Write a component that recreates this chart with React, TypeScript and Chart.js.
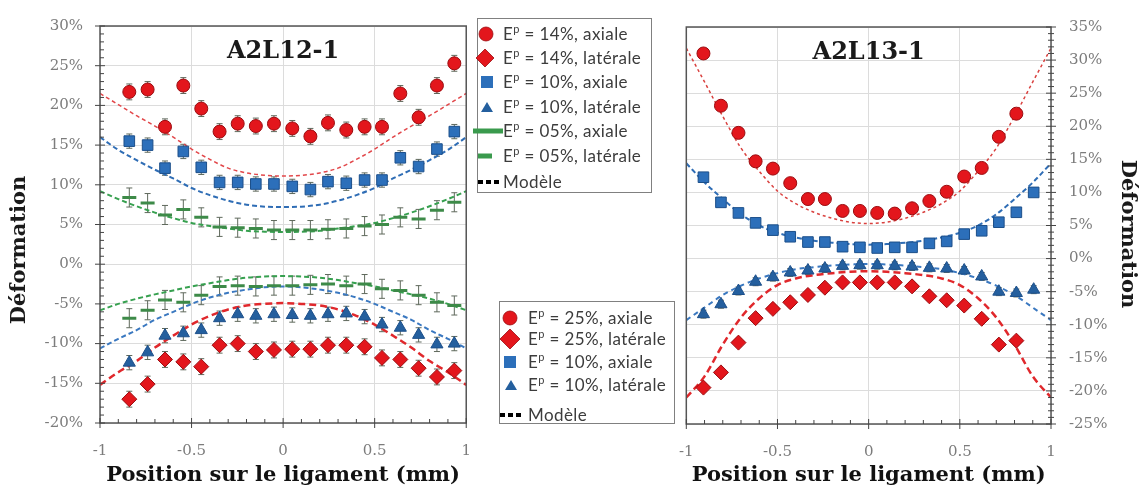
import React, { useEffect, useRef } from 'react';
import { Chart, registerables } from 'chart.js';
Chart.register(...registerables);

const SERIF = "'DejaVu Serif', 'Liberation Serif', serif";
const SANS = "Lato, 'Open Sans', 'Noto Sans', sans-serif";
Chart.defaults.font.family = SERIF;

const RED = '#e3161c';
const RED_EDGE = '#9a0c10';
const BLUE = '#2c6fba';
const BLUE_EDGE = '#1c4f8a';
const TRI = '#245f9e';
const GREEN = '#3a9a4d';
const GREEN_MARK = '#3d8a48';

// ---------- Left panel : A2L12-1 ----------
const xLeft = [-0.84, -0.74, -0.645, -0.545, -0.447, -0.347, -0.248, -0.149, -0.05, 0.05, 0.149, 0.245, 0.345, 0.445, 0.54, 0.64, 0.74, 0.84, 0.935];
const l14Axial = [21.7, 22.0, 17.3, 22.5, 19.6, 16.7, 17.7, 17.4, 17.7, 17.1, 16.1, 17.8, 16.9, 17.3, 17.3, 21.5, 18.5, 22.5, 25.3];
const l14Lateral = [-17.0, -15.1, -12.0, -12.3, -12.9, -10.2, -10.0, -11.0, -10.8, -10.7, -10.7, -10.2, -10.2, -10.4, -11.8, -12.0, -13.1, -14.2, -13.4];
const l10Axial = [15.5, 15.0, 12.1, 14.2, 12.2, 10.3, 10.3, 10.1, 10.1, 9.8, 9.4, 10.4, 10.2, 10.6, 10.6, 13.4, 12.3, 14.5, 16.7];
const l10Lateral = [-12.4, -11.1, -9.0, -8.7, -8.3, -6.8, -6.3, -6.5, -6.3, -6.4, -6.5, -6.3, -6.2, -6.6, -7.6, -8.0, -8.9, -10.1, -10.0];
const l05Axial = [8.4, 7.7, 6.2, 6.9, 5.9, 4.7, 4.6, 4.5, 4.3, 4.3, 4.3, 4.4, 4.5, 4.8, 5.0, 5.9, 5.7, 6.8, 7.8];
const l05Lateral = [-6.8, -5.8, -4.5, -4.8, -3.9, -2.8, -2.7, -2.8, -2.7, -2.7, -2.6, -2.5, -2.7, -2.5, -3.1, -3.3, -3.9, -4.8, -5.2];

const modelX = [-1, -0.9, -0.8, -0.7, -0.6, -0.5, -0.4, -0.3, -0.2, -0.1, 0, 0.1, 0.2, 0.3, 0.4, 0.5, 0.6, 0.7, 0.8, 0.9, 1];
const mL14Axial = [21.5, 20.1, 18.7, 17.4, 16.0, 14.5, 13.2, 12.1, 11.5, 11.2, 11.1, 11.2, 11.5, 12.1, 13.2, 14.5, 16.0, 17.4, 18.7, 20.1, 21.5];
const mL14Lateral = [-15.2, -13.6, -12.2, -10.5, -9.0, -7.6, -6.5, -5.7, -5.2, -5.0, -4.9, -5.0, -5.2, -5.7, -6.5, -7.6, -9.0, -10.5, -12.2, -13.6, -15.2];
const mL10Axial = [16.0, 14.4, 13.1, 11.9, 10.8, 9.6, 8.7, 8.0, 7.5, 7.25, 7.2, 7.25, 7.5, 8.0, 8.7, 9.6, 10.8, 11.9, 13.1, 14.4, 16.0];
const mL10Lateral = [-10.6, -9.4, -8.3, -7.0, -6.0, -5.0, -4.2, -3.6, -3.2, -2.9, -2.8, -2.9, -3.2, -3.6, -4.2, -5.0, -6.0, -7.0, -8.3, -9.4, -10.6];
const mL05Axial = [9.2, 8.2, 7.3, 6.5, 5.8, 5.2, 4.8, 4.5, 4.2, 4.1, 4.05, 4.1, 4.2, 4.5, 4.8, 5.2, 5.8, 6.5, 7.3, 8.2, 9.2];
const mL05Lateral = [-5.8, -5.0, -4.35, -3.8, -3.3, -2.8, -2.4, -2.0, -1.7, -1.55, -1.5, -1.55, -1.7, -2.0, -2.4, -2.8, -3.3, -3.8, -4.35, -5.0, -5.8];

// ---------- Right panel : A2L13-1 ----------
const xRight = [-0.906, -0.81, -0.714, -0.62, -0.525, -0.43, -0.333, -0.24, -0.143, -0.048, 0.047, 0.143, 0.238, 0.333, 0.428, 0.524, 0.62, 0.714, 0.81, 0.905];
const r25Axial = [31.0, 23.1, 19.0, 14.7, 13.6, 11.4, 9.0, 9.0, 7.2, 7.2, 6.9, 6.8, 7.6, 8.7, 10.1, 12.4, 13.7, 18.4, 21.9];
const r25Lateral = [-19.5, -17.2, -12.7, -9.0, -7.6, -6.6, -5.5, -4.4, -3.6, -3.6, -3.6, -3.6, -4.2, -5.7, -6.3, -7.1, -9.1, -13.0, -12.4];
const r10Axial = [12.3, 8.5, 6.9, 5.4, 4.3, 3.3, 2.5, 2.5, 1.8, 1.7, 1.6, 1.7, 1.7, 2.3, 2.6, 3.7, 4.2, 5.5, 7.0, 10.0];
const r10Lateral = [-8.4, -6.9, -4.9, -3.5, -2.8, -2.1, -1.8, -1.5, -1.1, -1.0, -1.0, -1.1, -1.2, -1.4, -1.5, -1.8, -2.7, -5.0, -5.2, -4.7];

const mR25Axial = [31.8, 26.7, 21.5, 16.7, 13.2, 10.2, 8.3, 7.0, 6.1, 5.5, 5.3, 5.5, 6.1, 7.0, 8.3, 10.2, 13.2, 16.7, 21.5, 26.7, 31.8];
const mR25Lateral = [-21.0, -17.8, -13.0, -8.9, -6.0, -4.0, -3.0, -2.5, -2.2, -2.0, -1.9, -2.0, -2.2, -2.5, -3.0, -4.0, -6.0, -8.9, -13.0, -17.8, -21.0];
const mR10Axial = [14.4, 11.5, 9.0, 6.7, 5.0, 3.9, 3.2, 2.7, 2.4, 2.2, 2.1, 2.2, 2.4, 2.7, 3.2, 3.9, 5.0, 6.7, 9.0, 11.5, 14.4];
const mR10Lateral = [-9.3, -7.4, -5.5, -4.1, -3.0, -2.2, -1.6, -1.3, -1.05, -0.9, -0.8, -0.9, -1.05, -1.3, -1.6, -2.2, -3.0, -4.1, -5.5, -7.4, -9.3];

const xTitle = 'Position sur le ligament (mm)';
const yTitle = 'Déformation';

const legendLeft = ['14%, axiale', '14%, latérale', '10%, axiale', '10%, latérale', '05%, axiale', '05%, latérale'];
const legendRight = ['25%, axiale', '25%, latérale', '10%, axiale', '10%, latérale'];
const modelLabel = 'Modèle';

const pts = (xs: number[], ys: number[]) => ys.map((y, i) => ({ x: xs[i], y }));

const marker = (label: string, data: any[], style: string, fill: string, edge: string, r: number, err: number, bw = 1) => ({
  label, data, showLine: false, pointStyle: style, pointRadius: r, pointBackgroundColor: fill,
  pointBorderColor: edge, pointBorderWidth: bw, errorBar: err, pointHoverRadius: r,
});

const model = (label: string, ys: number[], color: string, width: number, dash: number[]) => ({
  label, data: pts(modelX, ys), showLine: true, pointRadius: 0, borderColor: color, borderWidth: width,
  borderDash: dash, cubicInterpolationMode: 'monotone', fill: false,
});

const decorPlugin = {
  id: 'decor',
  beforeDatasetsDraw(chart: any) {
    const { ctx } = chart;
    const xs = chart.scales.x, ys = chart.scales.y;
    ctx.save();
    ctx.strokeStyle = '#5f695c';
    ctx.lineWidth = 1;
    chart.data.datasets.forEach((ds: any) => {
      if (!ds.errorBar) return;
      ds.data.forEach((p: any) => {
        const px = xs.getPixelForValue(p.x);
        const y1 = ys.getPixelForValue(p.y + ds.errorBar);
        const y2 = ys.getPixelForValue(p.y - ds.errorBar);
        ctx.beginPath();
        ctx.moveTo(px, y1); ctx.lineTo(px, y2);
        ctx.moveTo(px - 3, y1); ctx.lineTo(px + 3, y1);
        ctx.moveTo(px - 3, y2); ctx.lineTo(px + 3, y2);
        ctx.stroke();
      });
    });
    ctx.restore();
  },
  afterDraw(chart: any, _a: any, opts: any) {
    const { ctx, chartArea: a } = chart;
    const xs = chart.scales.x, ys = chart.scales.y;
    ctx.save();
    ctx.strokeStyle = '#555';
    ctx.lineWidth = 1.5;
    ctx.strokeRect(a.left, a.top, a.right - a.left, a.bottom - a.top);
    ctx.lineWidth = 1;
    ctx.strokeStyle = '#444';
    ctx.beginPath();
    for (let i = -10; i <= 10; i++) {
      const px = xs.getPixelForValue(i / 10);
      if (i % 5 === 0) { ctx.moveTo(px, a.bottom - 5); ctx.lineTo(px, a.bottom + 5); }
      else { ctx.moveTo(px, a.bottom); ctx.lineTo(px, a.bottom - 4); }
    }
    const right = opts.side === 'right';
    const ex = right ? a.right : a.left;
    for (let v = ys.min; v <= ys.max; v++) {
      const py = ys.getPixelForValue(v);
      if (v % 5 === 0) { ctx.moveTo(ex - 5, py); ctx.lineTo(ex + 5, py); }
      else if (right) { ctx.moveTo(ex - 3, py); ctx.lineTo(ex + 3, py); }
      else { ctx.moveTo(ex, py); ctx.lineTo(ex + 4, py); }
    }
    ctx.stroke();
    ctx.fillStyle = '#1a1a1a';
    ctx.font = `bold 24px ${SERIF}`;
    ctx.textAlign = 'center';
    ctx.textBaseline = 'middle';
    ctx.fillText(opts.title, (a.left + a.right) / 2, a.top + 26);
    ctx.font = `bold 21px ${SERIF}`;
    ctx.translate(opts.yTitleX, opts.yTitleY);
    ctx.rotate(right ? Math.PI / 2 : -Math.PI / 2);
    ctx.fillText(yTitle, 0, 0);
    ctx.restore();
  },
};

function baseScales(yMin: number, yMax: number, side: 'left' | 'right', axisW: number, axisH: number) {
  return {
    x: {
      type: 'linear', min: -1, max: 1,
      ticks: {
        stepSize: 0.5, color: '#7c7c7c', font: { family: SERIF, size: 15 }, padding: 19, autoSkip: false, maxRotation: 0,
        callback: (v: any) => String(Math.round(Number(v) * 10) / 10),
      },
      grid: { color: '#dcdcdc', drawTicks: false },
      border: { display: false },
      title: { display: true, text: xTitle, color: '#111', font: { family: SERIF, size: 21, weight: 'bold' }, padding: { top: 0, bottom: 7 } },
      afterFit: (s: any) => { s.height = axisH; },
    },
    y: {
      type: 'linear', min: yMin, max: yMax, position: side,
      ticks: {
        stepSize: 5, color: '#7c7c7c', font: { family: SERIF, size: 15 }, padding: side === 'left' ? 17 : 18,
        crossAlign: 'near', callback: (v: any) => v + '%',
      },
      grid: { color: '#dcdcdc', drawTicks: false },
      border: { display: false },
      afterFit: (s: any) => { s.width = axisW; },
    },
  };
}

function buildLeft(): any {
  return {
    type: 'scatter',
    data: {
      datasets: [
        marker(legendLeft[0], pts(xLeft, l14Axial), 'circle', RED, RED_EDGE, 6.5, 1.0),
        marker(legendLeft[1], pts(xLeft, l14Lateral), 'rectRot', RED, RED_EDGE, 7.5, 1.0),
        marker(legendLeft[2], pts(xLeft, l10Axial), 'rect', BLUE, BLUE_EDGE, 7.5, 0.9),
        marker(legendLeft[3], pts(xLeft, l10Lateral), 'triangle', TRI, BLUE_EDGE, 7, 0.9),
        marker(legendLeft[4], pts(xLeft, l05Axial), 'line', GREEN_MARK, GREEN_MARK, 7, 1.2, 3),
        marker(legendLeft[5], pts(xLeft, l05Lateral), 'line', GREEN_MARK, GREEN_MARK, 7, 1.2, 3),
        model(modelLabel, mL14Axial, '#e2474a', 1.5, [4, 3]),
        model(modelLabel, mL14Lateral, '#e0282c', 2.5, [7, 4]),
        model(modelLabel, mL10Axial, '#2f6db5', 2, [5, 3]),
        model(modelLabel, mL10Lateral, '#3a78c0', 2, [5, 3]),
        model(modelLabel, mL05Axial, '#36a04f', 2, [5, 3]),
        model(modelLabel, mL05Lateral, '#36a04f', 2, [5, 3]),
      ],
    },
    options: {
      responsive: false, animation: false, events: [],
      layout: { padding: { top: 19, right: 13, left: 0, bottom: 0 } },
      scales: baseScales(-20, 30, 'left', 100, 72),
      plugins: {
        legend: { display: false }, tooltip: { enabled: false },
        decor: { title: 'A2L12-1', side: 'left', yTitleX: 20, yTitleY: 250 },
      },
    },
    plugins: [decorPlugin],
  };
}

function buildRight(): any {
  return {
    type: 'scatter',
    data: {
      datasets: [
        marker(legendRight[0], pts(xRight, r25Axial), 'circle', RED, RED_EDGE, 6.5, 0.6),
        marker(legendRight[1], pts(xRight, r25Lateral), 'rectRot', RED, RED_EDGE, 7.5, 0.6),
        marker(legendRight[2], pts(xRight, r10Axial), 'rect', BLUE, BLUE_EDGE, 7.5, 0.6),
        marker(legendRight[3], pts(xRight, r10Lateral), 'triangle', TRI, BLUE_EDGE, 7, 0.6),
        model(modelLabel, mR25Axial, '#d9413f', 1.5, [3, 3]),
        model(modelLabel, mR25Lateral, '#e0282c', 2.5, [7, 4]),
        model(modelLabel, mR10Axial, '#2f6db5', 2, [5, 3]),
        model(modelLabel, mR10Lateral, '#3a78c0', 2, [5, 4]),
      ],
    },
    options: {
      responsive: false, animation: false, events: [],
      layout: { padding: { top: 18, right: 0, left: 14, bottom: 0 } },
      scales: baseScales(-25, 35, 'right', 93, 71),
      plugins: {
        legend: { display: false }, tooltip: { enabled: false },
        decor: { title: 'A2L13-1', side: 'right', yTitleX: 467, yTitleY: 234 },
      },
    },
    plugins: [decorPlugin],
  };
}

function Panel({ left, width, build }: { left: number; width: number; build: () => any }) {
  const ref = useRef<HTMLCanvasElement>(null);
  useEffect(() => {
    const chart = new Chart(ref.current as HTMLCanvasElement, build());
    return () => chart.destroy();
  }, []);
  return <canvas ref={ref} width={width} height={495} style={{ position: 'absolute', left, top: 0, width, height: 495 }} />;
}

function LegendText({ x, y, text, plain }: { x: number; y: number; text: string; plain?: boolean }) {
  return (
    <div style={{ position: 'absolute', left: x, top: y - 11, height: 22, lineHeight: '22px', fontFamily: SANS, fontSize: 17, letterSpacing: '0.4px', color: '#3c3c3c', whiteSpace: 'nowrap' }}>
      {plain ? text : (<>E<sup style={{ fontSize: 11, lineHeight: 0, verticalAlign: 'super' }}>p</sup> = {text}</>)}
    </div>
  );
}

export default function App() {
  const box = (l: number, t: number, w: number, h: number) => (
    <div style={{ position: 'absolute', left: l, top: t, width: w, height: h, border: '1.5px solid #808080', background: '#fff', boxSizing: 'border-box' }} />
  );
  return (
    <div style={{ position: 'absolute', left: 0, top: 0, width: 1144, height: 495, background: '#fff', overflow: 'hidden' }}>
      <Panel left={0} width={490} build={buildLeft} />
      <Panel left={660} width={484} build={buildRight} />
      {box(477, 18, 175, 175)}
      {box(499, 301, 176, 123)}
      <svg width={1144} height={495} style={{ position: 'absolute', left: 0, top: 0, pointerEvents: 'none' }}>
        <circle cx={486} cy={34} r={7} fill={RED} stroke={RED_EDGE} strokeWidth={0.8} />
        <polygon points="485,49 494,58 485,67 476,58" fill={RED} stroke={RED_EDGE} strokeWidth={0.8} />
        <rect x={481} y={76} width={12} height={12} fill={BLUE} />
        <polygon points="487,102 493,112 481,112" fill={TRI} />
        <line x1={473} y1={131} x2={503} y2={131} stroke={GREEN} strokeWidth={5} />
        <line x1={478} y1={156} x2={492} y2={156} stroke={GREEN} strokeWidth={5} />
        <line x1={478} y1={182} x2={500} y2={182} stroke="#000" strokeWidth={4} strokeDasharray="5 3" />
        <circle cx={510} cy={318} r={7} fill={RED} stroke={RED_EDGE} strokeWidth={0.8} />
        <polygon points="510,329 520,339 510,349 500,339" fill={RED} stroke={RED_EDGE} strokeWidth={0.8} />
        <rect x={504} y={356} width={12} height={12} fill={BLUE} />
        <polygon points="511,380 517,390 505,390" fill={TRI} />
        <line x1={500} y1={415} x2={523} y2={415} stroke="#000" strokeWidth={4} strokeDasharray="5 3" />
      </svg>
      {legendLeft.map((t, i) => (
        <LegendText key={'l' + i} x={503} y={[34, 58, 82, 107, 131, 156][i]} text={t} />
      ))}
      <LegendText x={503} y={182} text={modelLabel} plain />
      {legendRight.map((t, i) => (
        <LegendText key={'r' + i} x={528} y={[318, 339, 362, 385][i]} text={t} />
      ))}
      <LegendText x={528} y={415} text={modelLabel} plain />
    </div>
  );
}
